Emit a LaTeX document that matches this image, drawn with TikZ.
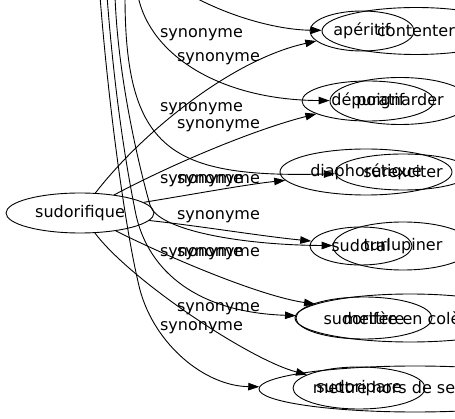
\documentclass[tikz,border=0pt]{standalone}
\usepackage{fontspec}
\setmainfont{DejaVu Sans}
\usetikzlibrary{arrows.meta,shapes.geometric}
\begin{document}
\begin{tikzpicture}[x=1pt,y=-1pt,
  ell/.style={draw,ellipse,inner sep=0pt,line width=0.9pt,minimum height=40pt,font=\fontsize{16}{19}\selectfont},
  edge/.style={line width=0.9pt,-{Triangle[length=11pt,width=7.5pt]}},
  lbl/.style={font=\fontsize{16}{19}\selectfont,inner sep=0pt}]
\useasboundingbox (0,0) rectangle (455,419);
\fill[white] (0,0) rectangle (455,419);
\clip (0,0) rectangle (455,419);
% nodes
\node[ell,minimum width=148pt] (sudorifique) at (80,213) {sudorifique};
\node[ell,minimum width=104pt,minimum height=40pt] (aperitif) at (362,31) {apéritif};
\node[ell,minimum width=188pt,minimum height=47pt] (contenter) at (416,31) {contenter};
\node[ell,minimum width=132pt,minimum height=40pt] (depuratif) at (368,101) {dépuratif};
\node[ell,minimum width=140pt,minimum height=47pt] (poignarder) at (400,101) {poignarder};
\node[ell,minimum width=172pt,minimum height=46pt] (diaphoretique) at (366,172) {diaphorétique};
\node[ell,minimum width=136pt,minimum height=36pt] (surexciter) at (403,172) {surexciter};
\node[ell,minimum width=102pt,minimum height=38pt] (sudoral) at (361,246) {sudoral};
\node[ell,minimum width=140pt,minimum height=48pt] (turlupiner) at (403,246) {turlupiner};
\node[ell,minimum width=136pt,minimum height=42pt] (sudorifere) at (364,318) {sudorifère};
\node[ell,minimum width=230pt,minimum height=48pt] (colere) at (410,318) {mettre en colère};
\node[ell,minimum width=132pt,minimum height=42pt] (sudoripare) at (359,388) {sudoripare};
\node[ell,minimum width=312pt,minimum height=46pt] (gonds) at (415,389) {mettre hors de ses gonds};
% free ends of edges coming from above
\coordinate (t1) at (185,-8);
\coordinate (t2) at (138,-4);
\coordinate (t3) at (125,-4);
\coordinate (t4) at (115,-4);
\coordinate (t5) at (107,-4);
\coordinate (t6) at (100,-4);
% edges from sudorifique
\draw[edge] (sudorifique) .. controls (140,135) and (230,60) .. (aperitif)
  node[lbl] at (218.5,59) {synonyme};
\draw[edge] (sudorifique) .. controls (180,160) and (260,128) .. (depuratif)
  node[lbl] at (218.5,126) {synonyme};
\draw[edge] (sudorifique) .. controls (200,193) and (250,184) .. (diaphoretique)
  node[lbl] at (218.5,181) {synonyme};
\draw[edge] (sudorifique) .. controls (200,226) and (260,236) .. (sudoral)
  node[lbl] at (218.5,217) {synonyme};
\draw[edge] (sudorifique) .. controls (170,258) and (260,296) .. (colere)
  node[lbl] at (218.5,254) {synonyme};
\draw[edge] (sudorifique) .. controls (130,280) and (250,360) .. (sudoripare)
  node[lbl] at (218.5,309) {synonyme};
% edges from above
\draw[edge] (t1) .. controls (230,18) and (280,30) .. (contenter);
\draw[edge] (t2) .. controls (150,55) and (220,100) .. (poignarder)
  node[lbl] at (201.5,35) {synonyme};
\draw[edge] (t3) .. controls (125,150) and (170,178) .. (surexciter)
  node[lbl] at (201.5,109) {synonyme};
\draw[edge] (t4) .. controls (118,80) and (140,170) .. (150,205)
  .. controls (157,230) and (240,245) .. (turlupiner)
  node[lbl] at (201.5,181) {synonyme};
\draw[edge] (t5) .. controls (115,100) and (127,170) .. (135,210)
  .. controls (145,265) and (190,312) .. (sudorifere)
  node[lbl] at (201.5,254) {synonyme};
\draw[edge] (t6) .. controls (108,100) and (125,230) .. (140,290)
  .. controls (155,345) and (205,386) .. (gonds)
  node[lbl] at (201.5,328) {synonyme};
\end{tikzpicture}
\end{document}
